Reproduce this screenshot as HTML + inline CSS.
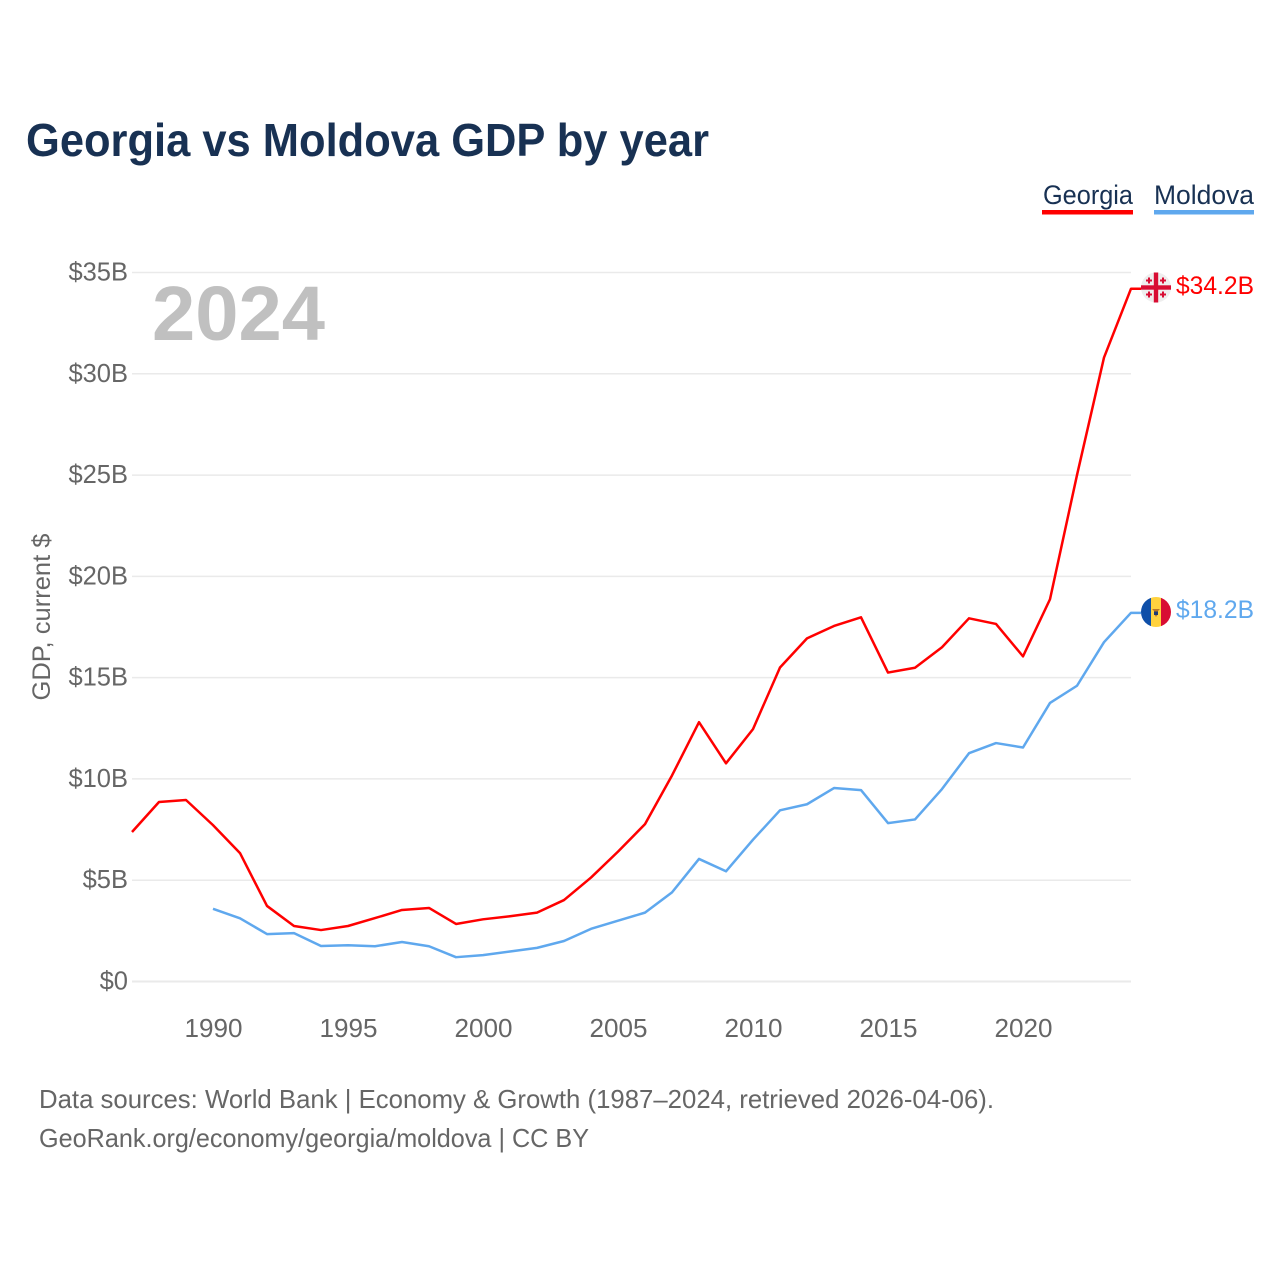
<!DOCTYPE html>
<html lang="en">
<head>
<meta charset="utf-8">
<title>Georgia vs Moldova GDP by year</title>
<style>
html,body{margin:0;padding:0;background:#fff;}
svg{display:block;font-family:"Liberation Sans",sans-serif;}
</style>
</head>
<body>
<svg id="chart" xmlns="http://www.w3.org/2000/svg" width="1280" height="1280" viewBox="0 0 1280 1280">
  <rect width="1280" height="1280" fill="#ffffff"/>
  <text x="26" y="156" font-size="46" font-weight="700" fill="#183153" textLength="683" lengthAdjust="spacingAndGlyphs">Georgia vs Moldova GDP by year</text>

  <g>
    <text x="1043" y="204" font-size="27" fill="#183153" textLength="90" lengthAdjust="spacingAndGlyphs">Georgia</text>
    <rect x="1042" y="210" width="91" height="4.5" fill="#ff0000"/>
  </g>
  <g>
    <text x="1154" y="204" font-size="27" fill="#183153" textLength="100" lengthAdjust="spacingAndGlyphs">Moldova</text>
    <rect x="1154" y="210" width="100" height="4.5" fill="#5fa8ee"/>
  </g>

  <g id="grid"></g>
  <g id="yticks"></g>
  <g id="xticks"></g>

  <text transform="translate(50,617) rotate(-90)" text-anchor="middle" font-size="25" fill="#666666" textLength="167" lengthAdjust="spacingAndGlyphs">GDP, current $</text>
  <text x="152" y="340" font-size="77" font-weight="700" fill="#c0c0c0" textLength="173" lengthAdjust="spacingAndGlyphs">2024</text>

  <g id="series"></g>

  <g transform="translate(1156,287.5)">
    <circle r="15" fill="#eeeeee"/>
    <rect x="-2.2" y="-15" width="4.4" height="30" fill="#d80d33"/>
    <rect x="-15" y="-2.2" width="30" height="4.4" fill="#d80d33"/>
    <path d="M-8-10h2v2h2v2h-2v2h-2v-2h-2v-2h2zM6-10h2v2h2v2h-2v2h-2v-2h-2v-2h2zM-8 4h2v2h2v2h-2v2h-2v-2h-2v-2h2zM6 4h2v2h2v2h-2v2h-2v-2h-2v-2h2z" fill="#d80d33"/>
  </g>
  <g transform="translate(1156,612)">
    <clipPath id="flag-clip"><circle r="15"/></clipPath>
    <g clip-path="url(#flag-clip)">
      <rect x="-15" y="-15" width="10" height="30" fill="#0f4fa8"/>
      <rect x="-5" y="-15" width="10" height="30" fill="#ffd23f"/>
      <rect x="5" y="-15" width="10" height="30" fill="#d80d33"/>
    </g>
    <path d="M-4-3h8l-2 2v3l-2 3-2-3v-3z" fill="#b8762a"/>
    <rect x="-2" y="-0.5" width="4" height="3.5" fill="#1f3b73"/>
  </g>

  <text x="1176" y="294" font-size="25" fill="#ff0000" textLength="78" lengthAdjust="spacingAndGlyphs">$34.2B</text>
  <text x="1176" y="618" font-size="25" fill="#5fa8ee" textLength="78" lengthAdjust="spacingAndGlyphs">$18.2B</text>

  <text x="39" y="1108" font-size="26" fill="#666666" textLength="955" lengthAdjust="spacingAndGlyphs">Data sources: World Bank | Economy &amp; Growth (1987–2024, retrieved 2026-04-06).</text>
  <text x="39" y="1147" font-size="26" fill="#666666" textLength="550" lengthAdjust="spacingAndGlyphs">GeoRank.org/economy/georgia/moldova | CC BY</text>
</svg>
<script>
const yTickValues = [0, 5, 10, 15, 20, 25, 30, 35];
const yTickLabels = ["$0", "$5B", "$10B", "$15B", "$20B", "$25B", "$30B", "$35B"];
const xTickYears = [1990, 1995, 2000, 2005, 2010, 2015, 2020];
const xTickLabels = ["1990", "1995", "2000", "2005", "2010", "2015", "2020"];
const georgiaStartYear = 1987;
const georgiaValues = [7.38, 8.86, 8.96, 7.72, 6.34, 3.73, 2.74, 2.54, 2.74, 3.13, 3.53, 3.63, 2.84, 3.07, 3.22, 3.40, 4.02, 5.13, 6.41, 7.77, 10.17, 12.8, 10.77, 12.46, 15.5, 16.94, 17.55, 17.98, 15.25, 15.49, 16.5, 17.93, 17.65, 16.05, 18.87, 25.0, 30.8, 34.2];
const moldovaStartYear = 1990;
const moldovaValues = [3.59, 3.12, 2.34, 2.39, 1.75, 1.79, 1.74, 1.95, 1.74, 1.2, 1.3, 1.48, 1.66, 2.0, 2.6, 3.0, 3.4, 4.4, 6.05, 5.44, 7.0, 8.45, 8.75, 9.55, 9.45, 7.82, 8.0, 9.5, 11.27, 11.77, 11.55, 13.75, 14.6, 16.75, 18.2];

const SVG_NS = 'http://www.w3.org/2000/svg';
const xScale = year => 132 + (year - 1987) * (1131 - 132) / (2024 - 1987);
const yScale = value => 981.5 - value * (981.5 - 272.5) / 35;
const gridGroup = document.getElementById('grid');
const yTickGroup = document.getElementById('yticks');
const xTickGroup = document.getElementById('xticks');
const seriesGroup = document.getElementById('series');

yTickValues.forEach((value, i) => {
  const line = document.createElementNS(SVG_NS, 'line');
  
  
  line.setAttribute('x1', 132);
  line.setAttribute('x2', 1131);
  line.setAttribute('y1', yScale(value));
  line.setAttribute('y2', yScale(value));
  line.setAttribute('stroke', '#eaeaea');
  line.setAttribute('stroke-width', value === 0 ? 2 : 1.5);
  gridGroup.appendChild(line);

  const label = document.createElementNS(SVG_NS, 'text');
  
  
  label.setAttribute('x', 128);
  label.setAttribute('y', yScale(value) + 8);
  label.setAttribute('text-anchor', 'end');
  label.setAttribute('font-size', '25.5');
  label.setAttribute('fill', '#666666');
  label.textContent = yTickLabels[i];
  yTickGroup.appendChild(label);
});

xTickYears.forEach((year, i) => {
  const label = document.createElementNS(SVG_NS, 'text');
  
  
  label.setAttribute('x', xScale(year) + 0.5);
  label.setAttribute('y', 1037);
  label.setAttribute('text-anchor', 'middle');
  label.setAttribute('font-size', '25.5');
  label.setAttribute('fill', '#666666');
  label.setAttribute('textLength', '58');
  label.setAttribute('lengthAdjust', 'spacingAndGlyphs');
  label.textContent = xTickLabels[i];
  xTickGroup.appendChild(label);
});

function seriesPoints(startYear, values) {
  const points = values.map((value, i) => xScale(startYear + i).toFixed(2) + ',' + yScale(value).toFixed(2));
  points.push('1141,' + yScale(values[values.length - 1]).toFixed(2));
  return points.join(' ');
}

const moldovaLine = document.createElementNS(SVG_NS, 'polyline');


moldovaLine.setAttribute('points', seriesPoints(moldovaStartYear, moldovaValues));
moldovaLine.setAttribute('fill', 'none');
moldovaLine.setAttribute('stroke', '#5fa8ee');
moldovaLine.setAttribute('stroke-width', '2.5');
moldovaLine.setAttribute('stroke-linejoin', 'round');
seriesGroup.appendChild(moldovaLine);

const georgiaLine = document.createElementNS(SVG_NS, 'polyline');


georgiaLine.setAttribute('points', seriesPoints(georgiaStartYear, georgiaValues));
georgiaLine.setAttribute('fill', 'none');
georgiaLine.setAttribute('stroke', '#ff0000');
georgiaLine.setAttribute('stroke-width', '2.5');
georgiaLine.setAttribute('stroke-linejoin', 'round');
seriesGroup.appendChild(georgiaLine);
</script>
</body>
</html>
